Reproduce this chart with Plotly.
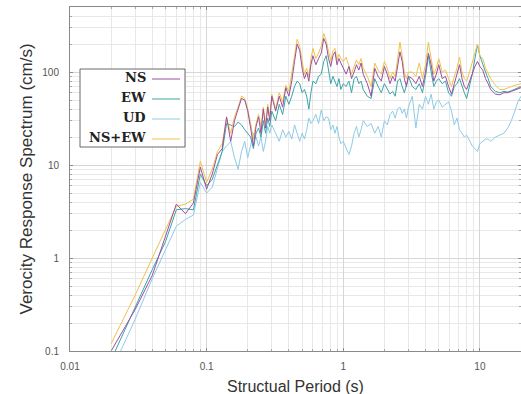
import plotly.graph_objects as go

# ---------------- data ----------------
period = [0.02, 0.03, 0.04, 0.05, 0.06, 0.07, 0.08, 0.09, 0.10, 0.11, 0.12, 0.13, 0.14, 0.15,
          0.16, 0.17, 0.18, 0.19, 0.20, 0.21, 0.22, 0.23, 0.24, 0.25, 0.26, 0.27, 0.28, 0.29,
          0.30, 0.32, 0.34, 0.36, 0.38, 0.40, 0.42, 0.44, 0.46, 0.48, 0.50, 0.52, 0.54, 0.56,
          0.58, 0.60, 0.63, 0.66, 0.69, 0.72, 0.75, 0.78, 0.81, 0.84, 0.87, 0.90, 0.93, 0.96,
          1.00, 1.05, 1.10, 1.15, 1.20, 1.25, 1.30, 1.35, 1.40, 1.50, 1.60, 1.70, 1.80, 1.90,
          2.0, 2.1, 2.2, 2.3, 2.4, 2.5, 2.6, 2.7, 2.8, 2.9, 3.0, 3.2, 3.4, 3.6, 3.8, 4.0,
          4.2, 4.4, 4.6, 4.8, 5.0, 5.3, 5.6, 5.9, 6.2, 6.5, 6.8, 7.1, 7.4, 7.7, 8.0, 8.4,
          8.8, 9.2, 9.6, 10.0, 10.5, 11, 11.5, 12, 13, 14, 15, 16, 17, 18, 19, 20]

ns = [0.1, 0.28, 0.65, 1.7, 3.8, 3.0, 3.9, 9.5, 5.5, 8, 13, 15, 33, 18,
      30, 40, 52, 50, 38, 25, 16, 26, 33, 22, 40, 25, 42, 30,
      55, 38, 55, 42, 68, 55, 80, 130, 200, 170, 110, 85, 100, 80,
      120, 150, 120, 140, 160, 230, 200, 140, 115, 150, 165, 120, 140, 125,
      110, 95, 115, 85, 100, 120, 105, 125, 95, 75, 55, 110, 90, 80,
      115, 95, 75, 90, 80, 120, 165, 130, 85, 70, 90, 85, 75, 90, 70, 100,
      160, 120, 80, 95, 120, 85, 90, 70, 58, 75, 95, 120, 85, 70, 65, 80,
      100, 115, 130, 115, 105, 85, 75, 65, 58, 57, 60, 60, 62, 64, 67, 68]

ew = [0.08, 0.3, 0.75, 1.5, 3.3, 3.4, 3.3, 8, 6, 7, 10, 14, 28, 27,
      26, 29, 27, 24, 22, 20, 15, 22, 25, 20, 30, 22, 32, 26,
      38, 30, 45, 35, 55, 45, 55, 70, 80, 75, 60, 65, 55, 40,
      60, 80, 75, 90, 95, 130, 150, 100, 75, 90, 80, 70, 85, 65,
      75, 70, 80, 60, 85, 90, 75, 80, 65, 55, 52, 85, 70, 60,
      75, 65, 58, 62, 55, 80, 85, 70, 60, 72, 90, 70, 65, 75, 60, 90,
      150, 100, 70, 80, 85, 75, 80, 60, 55, 70, 75, 85, 70, 60, 52, 70,
      95, 140, 195, 150, 120, 100, 85, 70, 62, 60, 62, 61, 63, 65, 68, 70]

ud = [0.06, 0.22, 0.6, 1.2, 2.2, 2.6, 2.9, 6.5, 5.0, 5.8, 9, 14, 16, 18,
      12, 9, 14, 18, 12, 16, 22, 20, 16, 20, 14, 18, 26, 22,
      27, 22, 18, 24, 20, 23, 19, 27, 22, 18, 22, 19, 24, 32,
      28, 30, 35, 28, 39, 30, 33, 32, 24, 27, 22, 26, 20, 17,
      18, 15, 13, 16, 22, 26, 20, 24, 30, 26, 28, 22, 26, 20,
      30, 27, 35, 38, 32, 40, 42, 36, 40, 32, 42, 55, 25, 45, 40, 55,
      45, 58, 40, 48, 50, 42, 45, 48, 38, 27, 32, 24, 22, 20, 21, 18,
      16, 15, 14, 17, 18, 19, 19, 18, 20, 21, 22, 25, 30, 38, 48, 55]

nsew = [0.12, 0.4, 1.0, 2.0, 3.6, 3.8, 4.3, 11, 6.5, 9, 14, 17, 32, 22,
        33, 42, 55, 52, 40, 28, 19, 28, 35, 26, 42, 28, 45, 33,
        58, 40, 60, 48, 72, 62, 95, 150, 225, 190, 125, 95, 110, 90,
        140, 180, 140, 160, 190, 260, 220, 160, 130, 170, 180, 135, 155, 140,
        130, 145, 120, 95, 115, 135, 120, 140, 110, 90, 70, 125, 105, 95,
        130, 110, 85, 100, 90, 140, 210, 150, 100, 85, 100, 100, 90, 125, 85, 120,
        210, 140, 95, 110, 140, 100, 105, 85, 70, 90, 110, 145, 100, 85, 80, 100,
        125, 160, 200, 150, 140, 110, 95, 85, 72, 65, 65, 68, 70, 72, 74, 75]

names = ["NS", "EW", "UD", "NS+EW"]
colors = {"NS": "#9b4f9e", "EW": "#3aa4a6", "UD": "#8ecbe6", "NS+EW": "#f0c24a"}
series = {"NS": ns, "EW": ew, "UD": ud, "NS+EW": nsew}

# ---------------- figure ----------------
fig = go.Figure()
for nm in ["UD", "EW", "NS+EW", "NS"]:
    fig.add_trace(go.Scatter(x=period, y=series[nm], mode="lines", name=nm,
                             line=dict(color=colors[nm], width=1), showlegend=False))

grid_major = "#d6d6d6"
grid_minor = "#e8e8e8"
axis_common = dict(type="log", showgrid=True, gridcolor=grid_major, gridwidth=1,
                   showline=True, linecolor="#8a8a8a", linewidth=1, mirror="ticks",
                   ticks="inside", ticklen=3, tickcolor="#8a8a8a", dtick=1,
                   tickfont=dict(family="Liberation Sans, Arial", size=10, color="#555555"),
                   minor=dict(dtick="D1", showgrid=True, gridcolor=grid_minor,
                              ticks="inside", ticklen=2, tickcolor="#aaaaaa"),
                   zeroline=False)

fig.update_xaxes(range=[-2, 1.301], ticklabelstandoff=6, **axis_common)
fig.update_yaxes(range=[-1, 2.70], ticklabelstandoff=8, **axis_common)

# plot area geometry in pixels (for the hand-built legend)
L, R, T, B = 70, 521, 7, 351
W, H = R - L, B - T
def px(x):
    return (x - L) / W
def py(y):
    return (B - y) / H

shapes = [dict(type="rect", xref="paper", yref="paper",
               x0=px(80), x1=px(185), y0=py(147), y1=py(69),
               line=dict(color="#6a6a6a", width=1), fillcolor="white", layer="above")]
annotations = []
leg_y = [77, 97, 117, 137]
for nm, yy in zip(names, leg_y):
    annotations.append(dict(xref="paper", yref="paper", x=px(148), y=py(yy),
                            xanchor="right", yanchor="middle", showarrow=False,
                            text="<b>%s</b>" % nm,
                            font=dict(family="DejaVu Serif", size=13, color="#222222")))
    shapes.append(dict(type="line", xref="paper", yref="paper",
                       x0=px(152), x1=px(180), y0=py(yy + 2), y1=py(yy + 2),
                       line=dict(color=colors[nm], width=1), layer="above"))

annotations.append(dict(xref="paper", yref="paper", x=0.5, y=py(386),
                        xanchor="center", yanchor="middle", showarrow=False,
                        text="Structual Period (s)",
                        font=dict(family="Liberation Sans, Arial", size=16, color="#333333")))
annotations.append(dict(xref="paper", yref="paper", x=px(25.5), y=0.5,
                        xanchor="center", yanchor="middle", showarrow=False, textangle=-90,
                        text="Verocity Response Spectrum (cm/s)",
                        font=dict(family="Liberation Sans, Arial", size=17, color="#333333")))

fig.update_layout(width=521, height=394,
                  margin=dict(l=L, r=521 - R, t=T, b=394 - B),
                  paper_bgcolor="white", plot_bgcolor="white",
                  shapes=shapes, annotations=annotations, showlegend=False)

fig.write_html("out.html")
